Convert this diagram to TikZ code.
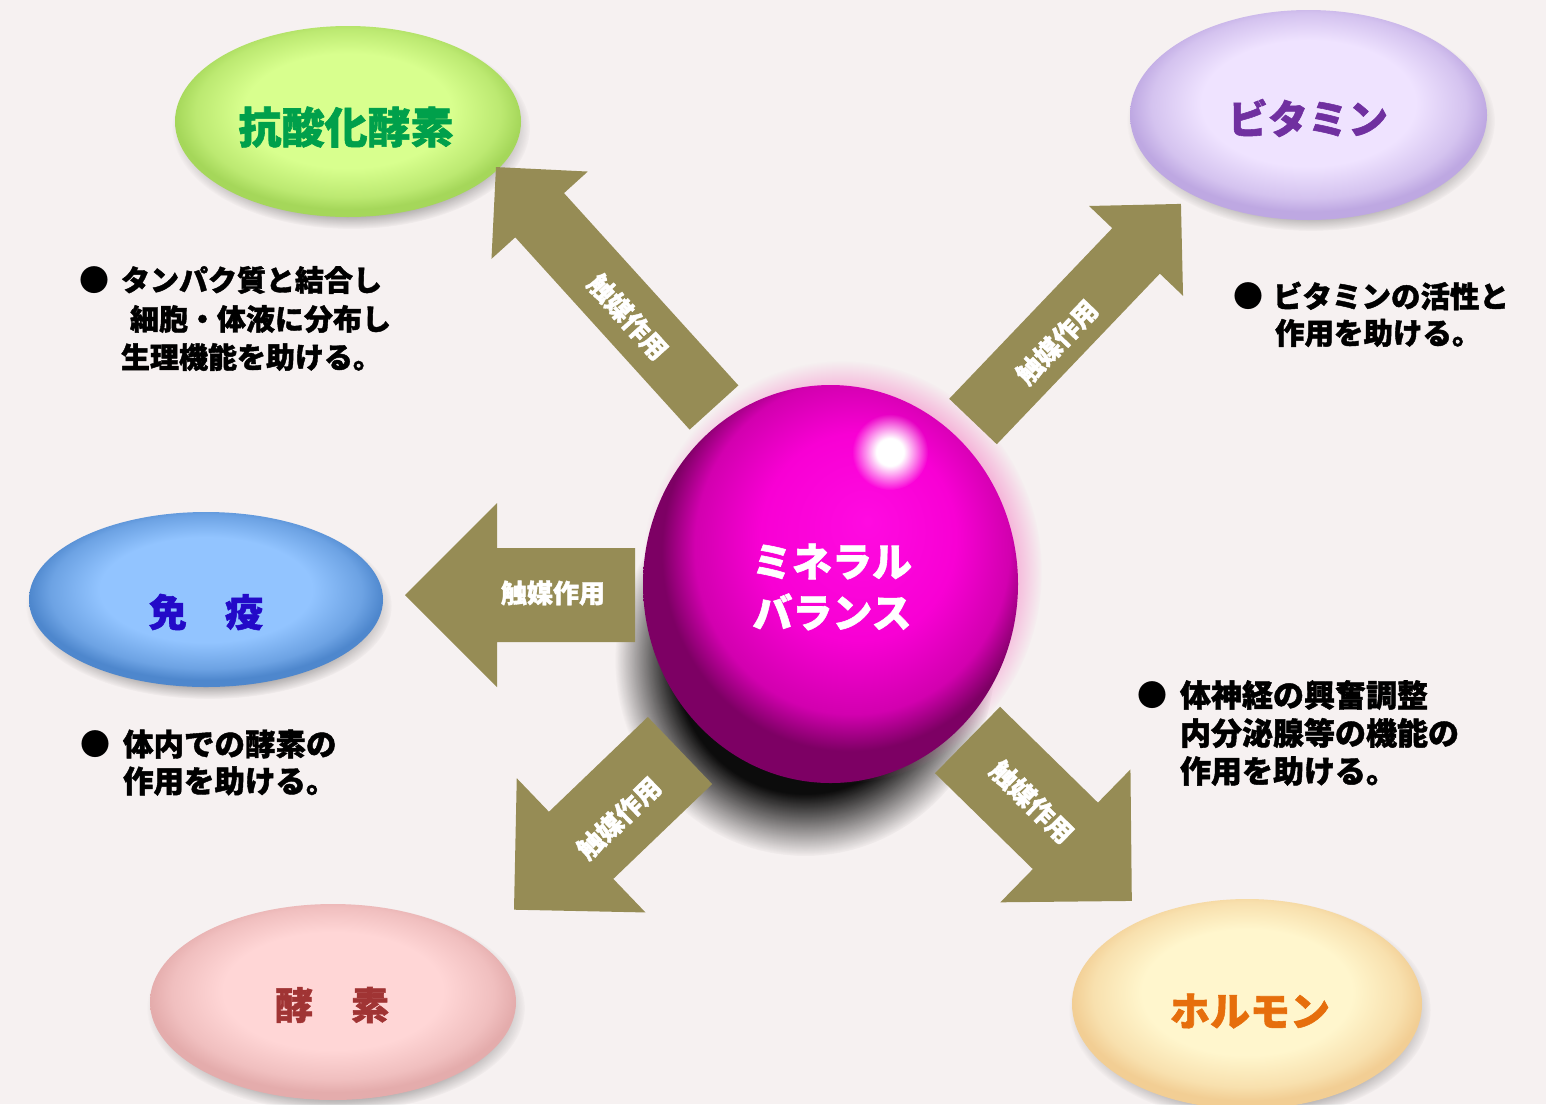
\documentclass[tikz,border=0pt]{standalone}
\usepackage{fontspec}
\newfontfamily\jp{Noto Sans CJK JP}[BoldFeatures={FakeBold=1.4}]
\usetikzlibrary{fadings}
\definecolor{bg}{RGB}{246,241,241}
\definecolor{arr}{RGB}{150,140,85}
\definecolor{gIn}{RGB}{216,255,142}
\definecolor{gOut}{RGB}{165,215,90}
\definecolor{vIn}{RGB}{239,227,255}
\definecolor{vOut}{RGB}{190,168,226}
\definecolor{bIn}{RGB}{146,196,255}
\definecolor{bOut}{RGB}{78,135,205}
\definecolor{pIn}{RGB}{255,214,214}
\definecolor{pOut}{RGB}{228,172,172}
\definecolor{hIn}{RGB}{255,246,205}
\definecolor{hOut}{RGB}{242,206,148}
\definecolor{sA}{RGB}{255,10,225}
\definecolor{sB}{RGB}{248,0,212}
\definecolor{sC}{RGB}{210,0,175}
\definecolor{sD}{RGB}{125,0,100}
\definecolor{txtG}{RGB}{0,160,75}
\definecolor{txtV}{RGB}{112,48,160}
\definecolor{txtB}{RGB}{35,10,200}
\definecolor{txtP}{RGB}{160,52,52}
\definecolor{txtH}{RGB}{230,110,12}
\newcommand\mkbevel[3]{\pgfdeclareradialshading{#1}{\pgfpoint{0bp}{4bp}}{color(0bp)=(#2); color(15bp)=(#2); color(22bp)=(#3!55!#2); color(25bp)=(#3); color(50bp)=(#3)}}
\mkbevel{gbev}{gIn}{gOut}
\mkbevel{vbev}{vIn}{vOut}
\mkbevel{bbev}{bIn}{bOut}
\mkbevel{pbev}{pIn}{pOut}
\mkbevel{hbev}{hIn}{hOut}
\pgfdeclareradialshading{sph}{\pgfpoint{5bp}{8bp}}{color(0bp)=(sA); color(13bp)=(sB); color(21bp)=(sC); color(25bp)=(sD); color(50bp)=(sD)}
\pgfdeclareradialshading{myfuzzsh}{\pgfpointorigin}{color(0bp)=(white); color(17bp)=(white); color(25bp)=(black); color(50bp)=(black)}
\pgfdeclarefading{myfuzz}{\pgfuseshading{myfuzzsh}}
\pgfdeclareradialshading{softsh}{\pgfpointorigin}{color(0bp)=(white); color(9bp)=(white); color(25bp)=(black); color(50bp)=(black)}
\pgfdeclarefading{softfuzz}{\pgfuseshading{softsh}}
\newcommand\blockarrow[6]{%
  \begin{scope}[shift={(#1,#2)}, rotate=#3]
    \fill[arr] (0,-#5) -- (#4-#6,-#5) -- (#4-#6,-#6) -- (#4,0) -- (#4-#6,#6) -- (#4-#6,#5) -- (0,#5) -- cycle;
  \end{scope}}
\tikzset{
  base/.style={inner sep=0pt, outer sep=0pt},
  eshadow/.style={black, opacity=0.30, path fading=circle with fuzzy edge 15 percent},
  title/.style={base, font=\jp\bfseries\fontsize{#1}{#1}\selectfont},
  body/.style={base, anchor=west, text=black, font=\jp\bfseries\fontsize{#1}{#1}\selectfont},
  bullet/.style={base, text=black, font=\jp\fontsize{30}{30}\selectfont},
  lbl/.style={base, text=white, font=\jp\bfseries\fontsize{26}{26}\selectfont}
}
\begin{document}
\begin{tikzpicture}[x=1pt,y=-1pt]
\fill[bg] (0,0) rectangle (1546,1104);
\useasboundingbox (0,0) rectangle (1546,1104);

% ellipse shadows
\fill[eshadow] (351,128) ellipse [x radius=179, y radius=101];
\fill[eshadow] (1311,121) ellipse [x radius=184, y radius=110];
\fill[eshadow] (209,606) ellipse [x radius=183, y radius=93];
\fill[eshadow] (336,1008) ellipse [x radius=189, y radius=104];
\fill[eshadow] (1250,1010) ellipse [x radius=181, y radius=111];

% ellipses
\shade[shading=gbev] (348,121.5) ellipse [x radius=173, y radius=95.5];
\shade[shading=vbev] (1308.5,115) ellipse [x radius=178.5, y radius=105];
\shade[shading=bbev] (206,599.5) ellipse [x radius=177, y radius=87.5];
\shade[shading=pbev] (333,1002) ellipse [x radius=183, y radius=98];
\shade[shading=hbev] (1247,1004) ellipse [x radius=175, y radius=105];

\node[title=43, text=txtG] (ko) at (346,127) {抗酸化酵素};
\node[title=40, text=txtV] (vi) at (1308,118) {ビタミン};
\node[title=38, text=txtB] (me) at (206,612) {免　疫};
\node[title=38, text=txtP] (ko2) at (332,1005) {酵　素};
\node[title=40, text=txtH] (ho) at (1250,1011) {ホルモン};

% sphere shadow and glow
\fill[black, opacity=0.95, path fading=myfuzz] (805,660) ellipse [x radius=190, y radius=196];
\fill[magenta!55!white, opacity=0.5, path fading=circle with fuzzy edge 15 percent] (842,572) ellipse [x radius=200, y radius=211];

% arrows
\blockarrow{714}{407.5}{132.2}{324.6}{32.9}{65}
\blockarrow{973}{421.5}{46.3}{301}{32.9}{65}
\blockarrow{635}{595}{180}{230}{47}{92}
\blockarrow{680}{750.5}{223.8}{230}{46.5}{93}
\blockarrow{967.5}{740}{315.6}{230}{46.5}{93}

% sphere
\shade[shading=sph] (830.5,584) ellipse [x radius=187.5, y radius=199];
\fill[white, path fading=softfuzz] (890,452) circle [radius=38];
\node[base, text=white, align=center, font=\jp\bfseries\fontsize{40}{51}\selectfont] (mb) at (832,587) {ミネラル\\バランス};

% arrow labels
\node[lbl, rotate=-47.8] (l1) at (628,317) {触媒作用};
\node[lbl, rotate=46.3] (l2) at (1057,342) {触媒作用};
\node[lbl] (l3) at (553,593) {触媒作用};
\node[lbl, rotate=43.8] (l4) at (619,818) {触媒作用};
\node[lbl, rotate=-44.4] (l5) at (1032,802) {触媒作用};

% bullet texts
\node[bullet] (b1) at (94,280) {●};
\node[body=29] (t11) at (121,280) {タンパク質と結合し};
\node[body=29] (t12) at (130,319) {細胞・体液に分布し};
\node[body=29] (t13) at (121,357) {生理機能を助ける。};

\node[bullet] (b2) at (1248,296) {●};
\node[body=29.5] (t21) at (1273,296) {ビタミンの活性と};
\node[body=29.5] (t22) at (1275,333) {作用を助ける。};

\node[bullet] (b3) at (95,744) {●};
\node[body=30.5] (t31) at (123,744) {体内での酵素の};
\node[body=30.5] (t32) at (123,781) {作用を助ける。};

\node[bullet] (b4) at (1152,695) {●};
\node[body=31] (t41) at (1180,695) {体神経の興奮調整};
\node[body=31] (t42) at (1180,733) {内分泌腺等の機能の};
\node[body=31] (t43) at (1180,771) {作用を助ける。};
\end{tikzpicture}
\end{document}
